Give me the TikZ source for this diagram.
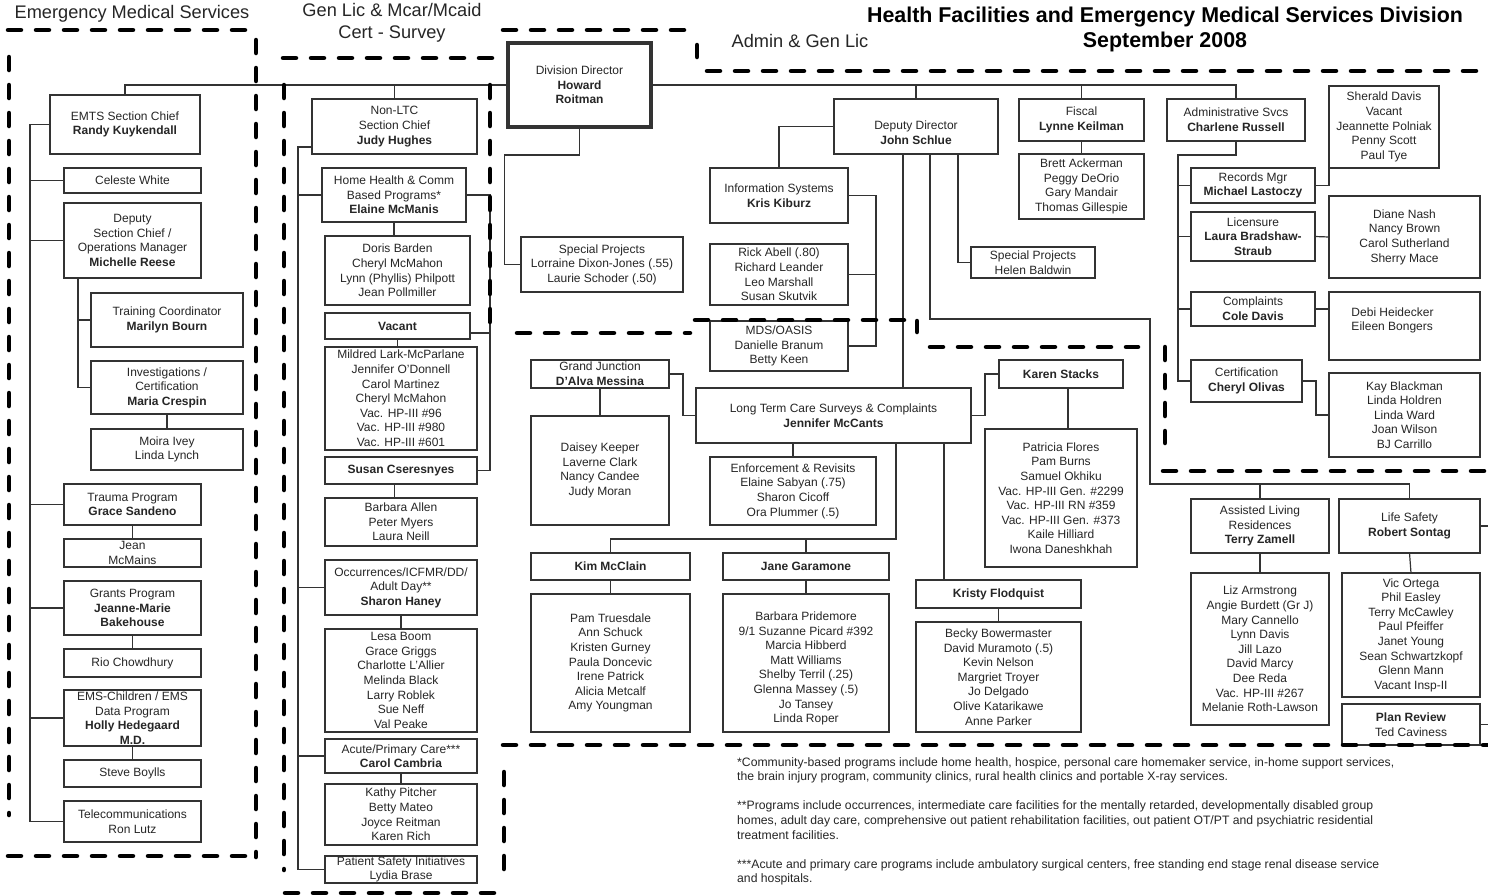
\documentclass[tikz,border=0pt]{standalone}
\usepackage{fontspec}
\setmainfont{Liberation Sans}
\definecolor{ink}{HTML}{262626}
\definecolor{rule}{HTML}{333333}
% box from corner (x1,y1) to (x2,y2): \ob[style]{name}{x1}{y1}{x2}{y2}{text}
\newcommand{\ob}[7][]{\node[#1,minimum width={(#5-#3)*1pt},minimum height={(#6-#4)*1pt}] (#2) at ({(#3+#5)/2},{(#4+#6)/2}) {#7};}
\begin{document}
\begin{tikzpicture}[x=1pt,y=-1pt,
  every node/.style={text=ink},
  obox/.style={draw=rule, rectangle, align=center, inner sep=0pt, outer sep=0pt, font=\fontsize{12}{14.6}\selectfont},
  boxtxt/.style={align=center, inner sep=0pt, font=\fontsize{12}{14.6}\selectfont},
  listbox/.style={obox, line width=1.2pt},
  headbox/.style={obox, line width=2.2pt},
  topbox/.style={obox, line width=4.5pt},
  conn/.style={draw=rule, line width=1.2pt},
  region/.style={draw=black, line width=4.5pt, line cap=round, dash pattern=on 13pt off 15pt},
  hdr/.style={font=\fontsize{18.2}{22}\selectfont, align=center},
  ttl/.style={font=\fontsize{21.4}{25}\selectfont\bfseries, align=center, text=black},
  note/.style={font=\fontsize{12.2}{14.6}\selectfont, align=left, anchor=north west, inner sep=0pt},
]
\fill[white] (0,0) rectangle (1488,895);
\useasboundingbox (0,0) rectangle (1488,895);

% ---------- headings ----------
\node[hdr] (hems) at (132,14) {Emergency Medical Services};
\node[hdr] (hgen) at (392,23) {Gen Lic \& Mcar/Mcaid\\Cert - Survey};
\node[hdr] (hadm) at (800,41) {Admin \& Gen Lic};
\node[ttl] (title) at (1165,29.5) {Health Facilities and Emergency Medical Services Division\\September 2008};

% ---------- Emergency Medical Services ----------
\ob[headbox]{emts}{50}{95}{200}{154}{EMTS Section Chief\\\textbf{Randy Kuykendall}}
\ob[listbox]{celeste}{64}{168}{201}{193}{Celeste White}
\ob[listbox]{deputy}{64}{203}{201}{278}{Deputy\\Section Chief /\\Operations Manager\\\textbf{Michelle Reese}}
\ob[listbox]{training}{91}{293}{243}{347}{Training Coordinator\\\textbf{Marilyn Bourn}}
\ob[listbox]{invest}{91}{361}{243}{414}{Investigations /\\Certification\\\textbf{Maria Crespin}}
\ob[listbox]{moira}{91}{429}{243}{470}{Moira Ivey\\Linda Lynch}
\ob[listbox]{trauma}{64}{484}{201}{525}{Trauma Program\\\textbf{Grace Sandeno}}
\ob[listbox]{jean}{64}{539}{201}{567}{Jean\\McMains}
\ob[headbox]{grants}{64}{581}{201}{635}{Grants Program\\\textbf{Jeanne-Marie}\\\textbf{Bakehouse}}
\ob[listbox]{rio}{64}{649}{201}{677}{Rio Chowdhury}
\ob[headbox]{emsch}{64}{690}{201}{746}{EMS-Children / EMS\\Data Program\\\textbf{Holly Hedegaard}\\\textbf{M.D.}}
\ob[listbox]{steve}{64}{760}{201}{787}{Steve Boylls}
\ob[listbox]{tele}{64}{801}{201}{842}{Telecommunications\\Ron Lutz}

% ---------- Non-LTC section ----------
\ob[headbox]{nonltc}{312}{99}{477}{154}{Non-LTC\\Section Chief\\\textbf{Judy Hughes}}
\ob[headbox]{homeh}{322}{168}{466}{222}{Home Health \& Comm\\Based Programs*\\\textbf{Elaine McManis}}
\ob[listbox]{doris}{325}{236}{470}{305}{Doris Barden\\Cheryl McMahon\\Lynn (Phyllis) Philpott\\Jean Pollmiller}
\ob[headbox]{vacant}{325}{313}{470}{339}{\textbf{Vacant}}
\ob[listbox]{mildred}{325}{347}{477}{450}{Mildred Lark-McParlane\\Jennifer O'Donnell\\Carol Martinez\\Cheryl McMahon\\Vac. HP-III \#96\\Vac. HP-III \#980\\Vac. HP-III \#601}
\ob[headbox]{susan}{325}{457}{477}{484}{\textbf{Susan Cseresnyes}}
\ob[listbox]{barbaraA}{325}{498}{477}{546}{Barbara Allen\\Peter Myers\\Laura Neill}
\ob[headbox]{occur}{325}{560}{477}{615}{Occurrences/ICFMR/DD/\\Adult Day**\\\textbf{Sharon Haney}}
\ob[listbox]{lesa}{325}{629}{477}{732}{Lesa Boom\\Grace Griggs\\Charlotte L'Allier\\Melinda Black\\Larry Roblek\\Sue Neff\\Val Peake}
\ob[headbox]{acute}{325}{739}{477}{773}{Acute/Primary Care***\\\textbf{Carol Cambria}}
\ob[listbox]{kathy}{325}{784}{477}{845}{Kathy Pitcher\\Betty Mateo\\Joyce Reitman\\Karen Rich}
\ob[listbox]{patient}{325}{856}{477}{883}{Patient Safety Initiatives\\Lydia Brase}

% ---------- Director and administration ----------
\ob[topbox]{dd}{508}{43}{651}{127}{Division Director\\\textbf{Howard}\\\textbf{Roitman}}
\ob[listbox]{sp1}{521}{237}{683}{292}{Special Projects\\Lorraine Dixon-Jones (.55)\\Laurie Schoder (.50)}
\ob[headbox, label={[boxtxt, yshift=-6.5pt]center:{Deputy Director\\\textbf{John Schlue}}}]{deputydir}{834}{99}{998}{154}{}
\ob[headbox]{info}{710}{168}{848}{223}{Information Systems\\\textbf{Kris Kiburz}}
\ob[listbox]{rick}{710}{244}{848}{305}{Rick Abell (.80)\\Richard Leander\\Leo Marshall\\Susan Skutvik}
\ob[listbox]{mds}{710}{321}{848}{371}{MDS/OASIS\\Danielle Branum\\Betty Keen}
\ob[listbox]{helen}{971}{247}{1095}{278}{Special Projects\\Helen Baldwin}
\ob[headbox]{fiscal}{1019}{99}{1144}{141}{Fiscal\\\textbf{Lynne Keilman}}
\ob[listbox]{brett}{1019}{154}{1144}{219}{Brett Ackerman\\Peggy DeOrio\\Gary Mandair\\Thomas Gillespie}
\ob[headbox]{admsvc}{1167}{99}{1305}{141}{Administrative Svcs\\\textbf{Charlene Russell}}
\ob[listbox]{sherald}{1329}{86}{1439}{168}{Sherald Davis\\Vacant\\Jeannette Polniak\\Penny Scott\\Paul Tye}
\ob[headbox]{records}{1191}{168}{1315}{203}{Records Mgr\\\textbf{Michael Lastoczy}}
\ob[headbox]{licensure}{1191}{212}{1315}{261}{Licensure\\\textbf{Laura Bradshaw-}\\\textbf{Straub}}
\ob[listbox]{diane}{1329}{196}{1480}{278}{Diane Nash\\Nancy Brown\\Carol Sutherland\\Sherry Mace}
\ob[headbox]{complaints}{1191}{292}{1315}{326}{Complaints\\\textbf{Cole Davis}}
\ob[listbox, label={[boxtxt, align=left, xshift=-12pt, yshift=5.5pt]center:{Debi Heidecker\\Eileen Bongers}}]{debi}{1329}{292}{1480}{360}{}
\ob[headbox]{cert}{1191}{360}{1302}{402}{Certification\\\textbf{Cheryl Olivas}}
\ob[listbox]{kay}{1329}{373}{1480}{457}{Kay Blackman\\Linda Holdren\\Linda Ward\\Joan Wilson\\BJ Carrillo}

% ---------- Long term care ----------
\ob[headbox]{ltc}{696}{388}{971}{443}{Long Term Care Surveys \& Complaints\\\textbf{Jennifer McCants}}
\ob[headbox]{gj}{531}{360}{669}{388}{Grand Junction\\\textbf{D'Alva Messina}}
\ob[listbox]{daisey}{531}{416}{669}{525}{Daisey Keeper\\Laverne Clark\\Nancy Candee\\Judy Moran}
\ob[listbox]{enf}{710}{457}{876}{525}{Enforcement \& Revisits\\Elaine Sabyan (.75)\\Sharon Cicoff\\Ora Plummer (.5)}
\ob[headbox]{karen}{999}{360}{1123}{388}{\textbf{Karen Stacks}}
\ob[listbox]{patricia}{985}{429}{1137}{567}{Patricia Flores\\Pam Burns\\Samuel Okhiku\\Vac. HP-III Gen. \#2299\\Vac. HP-III RN \#359\\Vac. HP-III Gen. \#373\\Kaile Hilliard\\Iwona Daneshkhah}
\ob[headbox]{kim}{531}{553}{690}{580}{\textbf{Kim McClain}}
\ob[listbox]{pam}{531}{594}{690}{732}{Pam Truesdale\\Ann Schuck\\Kristen Gurney\\Paula Doncevic\\Irene Patrick\\Alicia Metcalf\\Amy Youngman}
\ob[headbox]{jane}{723}{553}{889}{580}{\textbf{Jane Garamone}}
\ob[listbox, label={[boxtxt, yshift=-5.5pt]center:{Barbara Pridemore\\9/1 Suzanne Picard \#392\\Marcia Hibberd\\Matt Williams\\Shelby Terril (.25)\\Glenna Massey (.5)\\Jo Tansey\\Linda Roper}}]{barbaraP}{723}{594}{889}{732}{}
\ob[headbox]{kristy}{916}{580}{1081}{608}{\textbf{Kristy Flodquist}}
\ob[listbox]{becky}{916}{622}{1081}{732}{Becky Bowermaster\\David Muramoto (.5)\\Kevin Nelson\\Margriet Troyer\\Jo Delgado\\Olive Katarikawe\\Anne Parker}

% ---------- Assisted living and life safety ----------
\ob[headbox]{assisted}{1191}{499}{1329}{553}{Assisted Living\\Residences\\\textbf{Terry Zamell}}
\ob[listbox]{liz}{1191}{573}{1329}{725}{Liz Armstrong\\Angie Burdett (Gr J)\\Mary Cannello\\Lynn Davis\\Jill Lazo\\David Marcy\\Dee Reda\\Vac. HP-III \#267\\Melanie Roth-Lawson}
\ob[headbox]{lifesafety}{1339}{499}{1480}{553}{Life Safety\\\textbf{Robert Sontag}}
\ob[listbox]{vic}{1342}{573}{1480}{697}{Vic Ortega\\Phil Easley\\Terry McCawley\\Paul Pfeiffer\\Janet Young\\Sean Schwartzkopf\\Glenn Mann\\Vacant Insp-II}
\ob[headbox]{plan}{1342}{704}{1480}{745}{\textbf{Plan Review}\\Ted Caviness}

% ---------- footnotes ----------
\node[note] (notes) at (737,757) {*Community-based programs include home health, hospice, personal care homemaker service, in-home support services,\\
the brain injury program, community clinics, rural health clinics and portable X-ray services.\\[14.6pt]
**Programs include occurrences, intermediate care facilities for the mentally retarded, developmentally disabled group\\
homes, adult day care, comprehensive out patient rehabilitation facilities, out patient OT/PT and psychiatric residential\\
treatment facilities.\\[14.6pt]
***Acute and primary care programs include ambulatory surgical centers, free standing end stage renal disease service\\
and hospitals.};

% ---------- connectors ----------
% top line from the director
\draw[conn] (emts.north) |- (dd.west);
\draw[conn] (nonltc.north) -- (nonltc.north |- dd.west);
\draw[conn] (dd.east) -| (admsvc.north);
\draw[conn] (deputydir.north) -- (deputydir.north |- dd.east);
\draw[conn] (fiscal.north) -- (fiscal.north |- dd.east);

% EMS tree
\draw[conn] (emts.west) -- ++(-20,0) coordinate (es) |- (tele.west);
\foreach \n in {celeste,deputy,trauma,grants,emsch} \draw[conn] (\n.west) -- (\n.west -| es);
\draw[conn] ([xshift=14pt]deputy.south west) coordinate (ds) |- (invest.west);
\draw[conn] (training.west) -- (training.west -| ds);
\draw[conn] (invest.south) -- (moira.north);
\draw[conn] (trauma.south) -- (jean.north);
\draw[conn] (grants.south) -- (rio.north);
\draw[conn] (emsch.south) -- (steve.north);

% Non-LTC tree
\draw[conn] ([yshift=-20.5pt]nonltc.west) -- ++(-14,0) coordinate (gs) |- (patient.west);
\foreach \n in {homeh,occur,acute} \draw[conn] (\n.west) -- (\n.west -| gs);
\draw[conn] (homeh.east) -- ++(24,0) coordinate (hr) |- (susan.east);
\draw[conn] ([yshift=-7pt]vacant.east) -- ++(20,0);
\draw[conn] (homeh.south) -- (homeh.south |- doris.north);
\draw[conn] (vacant.south) -- (vacant.south |- mildred.north);
\draw[conn] (susan.south -| nonltc.north) -- (barbaraA.north -| nonltc.north);
\draw[conn] (occur.south) -- (lesa.north);
\draw[conn] (acute.south) -- (kathy.north);

% director's special projects
\draw[conn] (dd.south) |- ++(-75,28) |- (sp1.west);

% deputy director tree
\draw[conn] (deputydir.west) -| (info.north);
\draw[conn] (info.east) -- ++(28,0) coordinate (ir) |- (mds.east);
\draw[conn] (rick.east) -- (rick.east -| ir);
\draw[conn] ([xshift=42pt]deputydir.south) |- (helen.west);
\draw[conn] ([xshift=14pt]deputydir.south) |- ++(220,165) -- ++(0,165) coordinate (alb) -| (lifesafety.north);
\draw[conn] (assisted.north) -- (assisted.north |- alb);
\draw[conn] ([xshift=-13pt]deputydir.south) -- ++(0,234);

% long term care tree
\draw[conn] (ltc.west) -- ++(-13,0) |- (gj.east);
\draw[conn] (gj.south) -- (daisey.north);
\draw[conn] (enf.north) -- (enf.north |- ltc.south);
\draw[conn] ([xshift=62.5pt]ltc.south) -- ++(0,96) coordinate (lb) -| (kim.north);
\draw[conn] (jane.north) -- (jane.north |- lb);
\draw[conn] ([xshift=110.5pt]ltc.south) -- ++(0,137);
\draw[conn] (ltc.east) -- ++(14,0) |- (karen.west);
\draw[conn] ([xshift=7pt]karen.south) -- ++(0,41);
\draw[conn] (kim.south) -- (pam.north);
\draw[conn] (jane.south) -- (barbaraP.north);
\draw[conn] (kristy.south) -- (becky.north);

% fiscal and administrative services
\draw[conn] (fiscal.south) -- (brett.north);
\draw[conn] (admsvc.south) |- ++(-58,14) coordinate (as) |- (cert.west);
\foreach \n in {records,licensure} \draw[conn] (\n.west) -- (\n.west -| as);
\draw[conn] (complaints.west) -- (complaints.west -| as);
\draw[conn] (records.east) -| (sherald.south west);
\draw[conn] (licensure.east) -- (diane.west);
\draw[conn] (complaints.east) -- (complaints.east -| debi.west);
\draw[conn] (cert.east) -- ++(14,0) |- (kay.west);
\draw[conn] (assisted.south) -- (liz.north);
\draw[conn] (lifesafety.south) -- (vic.north);
\draw[conn] (lifesafety.east) -- ++(20,0) |- (plan.east);

% ---------- section boundaries ----------
\draw[region] (8,30) -- (253,30);
\draw[region] (256,40) -- (256,857);
\draw[region] (9,57) -- (9,815);
\draw[region] (8,856) -- (246,856);
\draw[region] (283,58) -- (493,58);
\draw[region] (284,85) -- (284,870);
\draw[region] (490,85) -- (490,330);
\draw[region] (285,893) -- (505,893);
\draw[region] (503,30) -- (692,30);
\draw[region, solid] (697,45) -- (697,57);
\draw[region] (707,71) -- (1488,71);
\draw[region] (517,333) -- (690,333);
\draw[region] (695,320) -- (912,320);
\draw[region, solid] (917,321) -- (917,332);
\draw[region] (930,347) -- (1138,347);
\draw[region] (1165,347) -- (1165,443);
\draw[region] (1163,471) -- (1488,471);
\draw[region] (503,745) -- (1488,745);
\draw[region] (504,772) -- (504,880);
\end{tikzpicture}
\end{document}
